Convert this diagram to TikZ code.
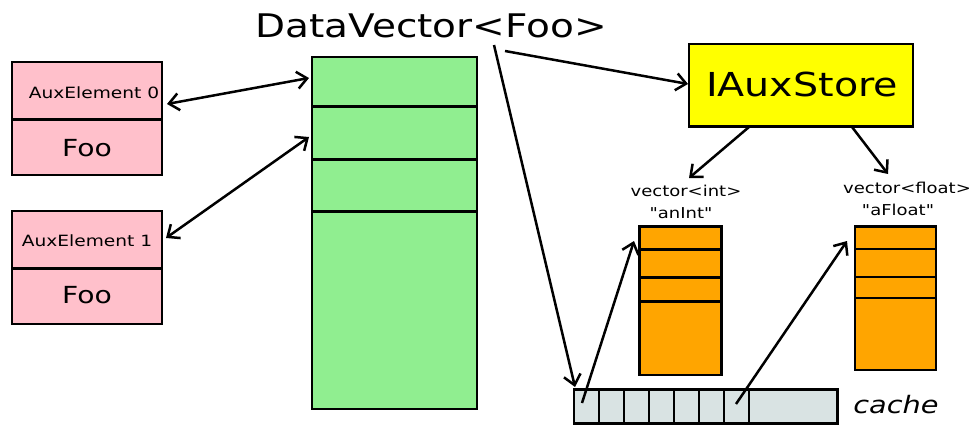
\documentclass[tikz,border=0pt]{standalone}
\usepackage{fontspec}
\setmainfont{DejaVu Sans}[FakeStretch=1.2, ItalicFont={* Oblique}, Ligatures=TeXOff]
\usetikzlibrary{arrows.meta}

\definecolor{auxpink}{HTML}{FFC0CB}
\definecolor{vecgreen}{HTML}{90EE90}
\definecolor{storeyellow}{HTML}{FFFF00}
\definecolor{colorange}{HTML}{FFA500}
\definecolor{cachegray}{HTML}{D9E3E3}

\newcommand{\fsz}[1]{\fontsize{#1}{#1}\selectfont}

\tikzset{
  cell/.style={draw, anchor=north west, inner sep=0pt, outer sep=0pt},
  lbl/.style={anchor=base, inner sep=0pt},
}

\begin{document}
\begin{tikzpicture}[x=1pt, y=-1pt, line width=2.5pt,
    >={Straight Barb[length=10pt, width=17pt]}]
  \useasboundingbox (0,0) rectangle (971,425);

  % aux elements
  \node[cell, fill=auxpink, minimum width=150pt, minimum height=113pt] (aux0) at (12,62) {};
  \node[cell, fill=auxpink, minimum width=150pt, minimum height=113pt] (aux1) at (12,211) {};
  \draw (12,119.3) -- (162,119.3);
  \draw (12,268.7) -- (162,268.7);
  \node[lbl] (aux0name) at (94,98.3) {\fsz{15.5}AuxElement 0};
  \node[lbl] (aux0foo) at (87,156) {\fsz{23.5}Foo};
  \node[lbl] (aux1name) at (87,246) {\fsz{15.5}AuxElement 1};
  \node[lbl] (aux1foo) at (87,303.3) {\fsz{23.5}Foo};

  % the DataVector
  \node[lbl] (title) at (431,37.5) {\fsz{32.5}DataVector<Foo>};
  \node[cell, fill=vecgreen, minimum width=165pt, minimum height=352pt] (vec) at (312,57) {};
  \foreach \y in {106.7,159.3,211.3}
    \draw (312,\y) -- (477,\y);

  % the store
  \node[cell, fill=storeyellow, minimum width=224pt, minimum height=82.7pt] (store) at (689,44) {};
  \node[lbl] (storename) at (802,96.7) {\fsz{33}IAuxStore};

  % the variables
  \node[lbl] (inttype) at (686,196.7) {\fsz{15}vector<int>};
  \node[lbl] (intname) at (681,218.3) {\fsz{15}"anInt"};
  \node[cell, fill=colorange, minimum width=82.4pt, minimum height=148.3pt] (intvec) at (639.3,226.7) {};
  \foreach \y in {249.3,277.3,301.7}
    \draw (639.3,\y) -- (721.7,\y);

  \node[lbl] (floattype) at (907,193.3) {\fsz{15}vector<float>};
  \node[lbl] (floatname) at (898,215) {\fsz{15}"aFloat"};
  \node[cell, fill=colorange, minimum width=81pt, minimum height=143.3pt] (floatvec) at (855,226.7) {};
  \foreach \y in {249,277,298}
    \draw (855,\y) -- (936,\y);

  % cache
  \node[cell, fill=cachegray, minimum width=263.7pt, minimum height=34pt] (cache) at (574,389.3) {};
  \foreach \x in {599,624,...,749}
    \draw (\x,389.3) -- (\x,423.3);
  \node[lbl] (cachename) at (896,413.3) {\fsz{24}\itshape cache};

  % arrow ends
  \coordinate (aux0end) at (167,104);
  \coordinate (row0end) at (309,78);
  \coordinate (aux1end) at (166,238);
  \coordinate (row1end) at (309,137);
  \coordinate (titleA) at (505,51);
  \coordinate (storeend) at (688,84);
  \coordinate (titleB) at (494,45);
  \coordinate (cacheend) at (575,387);
  \coordinate (storeA) at (749,127);
  \coordinate (inttip) at (689,178);
  \coordinate (storeB) at (852,127);
  \coordinate (floattip) at (888,174);
  \coordinate (slot0) at (582,403);
  \coordinate (intvecend) at (634,241);
  \coordinate (slot6) at (736,404);
  \coordinate (floatvecend) at (847,241);

  \draw[<->] (aux0end) -- (row0end);
  \draw[<->] (aux1end) -- (row1end);
  \draw[->] (titleA) -- (storeend);
  \draw[->] (titleB) -- (cacheend);
  \draw[->] (storeA) -- (inttip);
  \draw[->] (storeB) -- (floattip);
  \draw[->] (slot0) -- (intvecend);
  \draw[->] (slot6) -- (floatvecend);
\end{tikzpicture}
\end{document}
